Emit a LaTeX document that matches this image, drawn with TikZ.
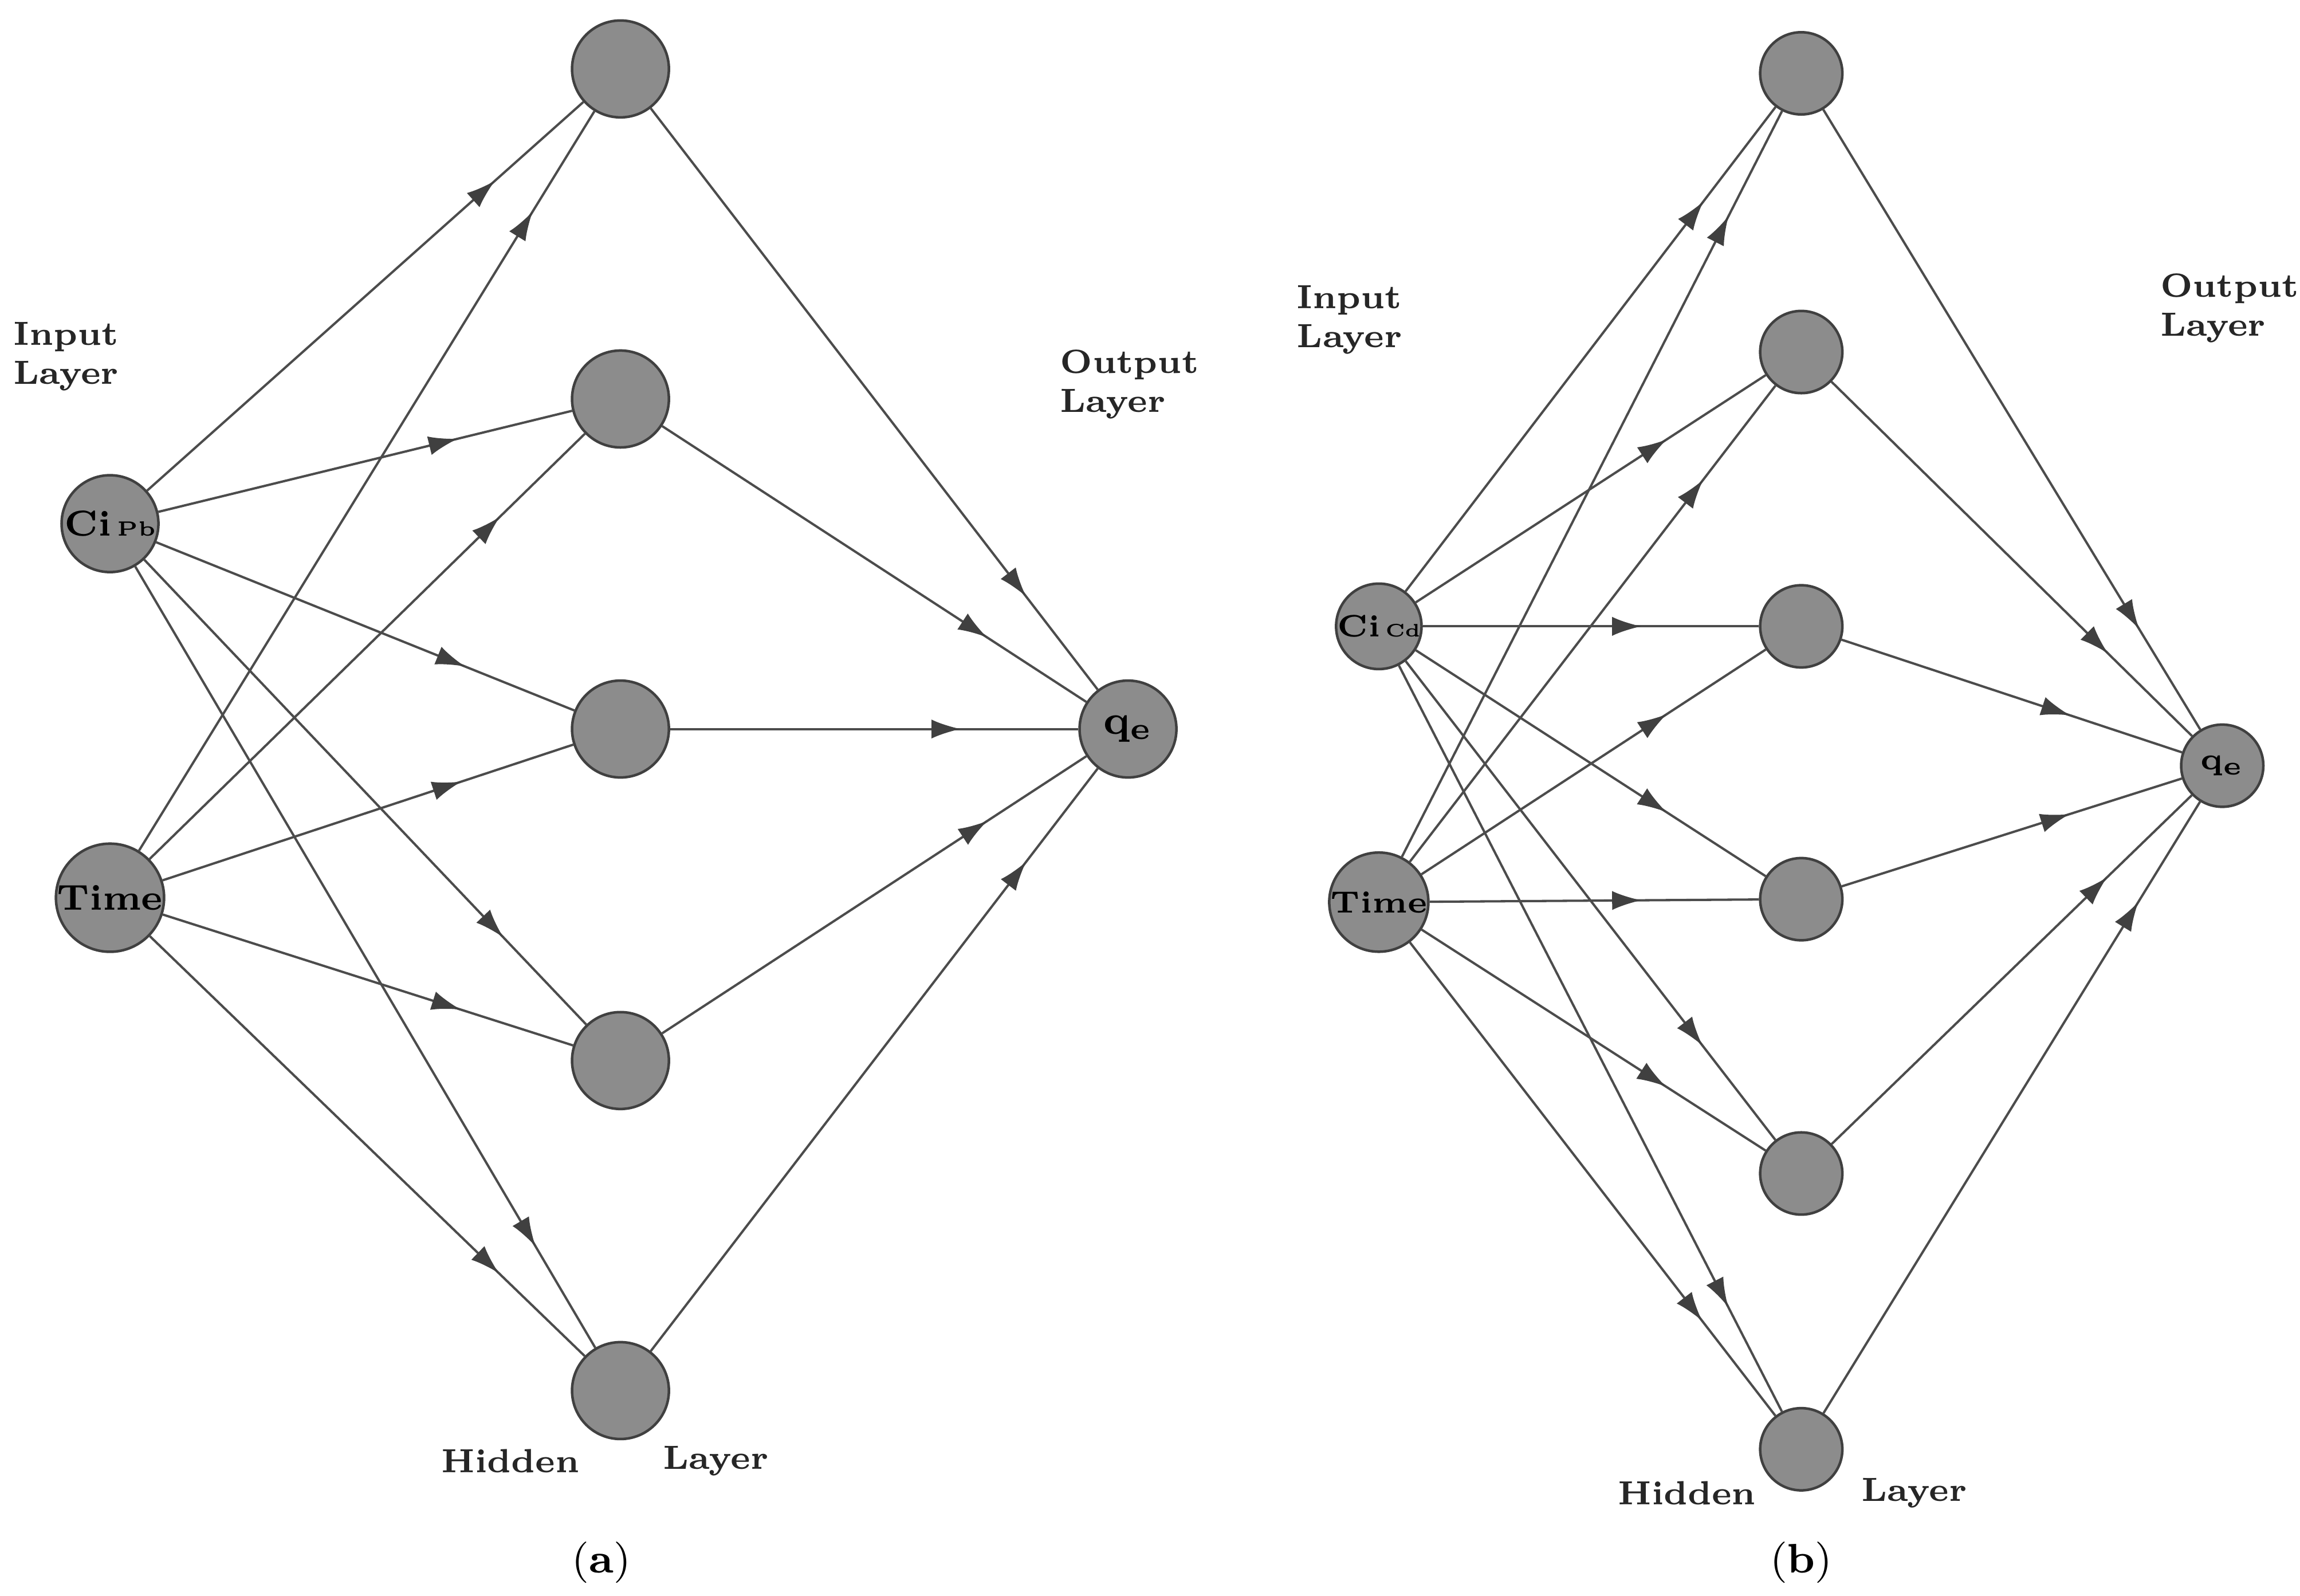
\documentclass[tikz,border=0pt]{standalone}
\usetikzlibrary{decorations.markings,arrows.meta}
\begin{document}
\begin{tikzpicture}[x=0.01cm,y=-0.01cm,
  neuron/.style={circle,draw=black!75,line width=0.5pt,fill=black!45,inner sep=0pt},
  lbl/.style={font=\fontsize{6.5}{7.5}\selectfont\bfseries,align=left,text=black!85},
  edge/.style={draw=black!70,line width=0.45pt,postaction={decorate},
    decoration={markings,mark=at position -0.8cm with {\arrow[black!75]{Latex[length=0.2cm,width=0.13cm]}}}}]
\useasboundingbox (0,0) rectangle (1568,1088);
% panel a
\node[neuron,minimum size=0.66cm] (a1) at (75,357) {\fontsize{7}{8}\selectfont\bfseries Ci\,{\fontsize{4}{4}\selectfont Pb}};
\node[neuron,minimum size=0.66cm] (a2) at (75,612) {\fontsize{7}{8}\selectfont\bfseries Time};
\foreach \i/\y in {1/47,2/272,3/497,4/723,5/948}
  \node[neuron,minimum size=0.66cm] (ah\i) at (423,\y) {};
\node[neuron,minimum size=0.66cm] (ao) at (769,497) {\fontsize{8}{8}\selectfont\bfseries q$_{\mathbf e}$};
\foreach \i in {1,...,5}{
  \draw[edge] (a1) -- (ah\i);
  \draw[edge] (a2) -- (ah\i);
  \draw[edge] (ah\i) -- (ao);}
\node[lbl] (t1) at (45,243) {Input\\Layer};
\node[lbl] (t2) at (770,262) {Output\\Layer};
\node[lbl] (t3) at (348,996) {Hidden};
\node[lbl] (t4) at (488,996) {Layer};
\node[font=\fontsize{8}{9}\selectfont] (ca) at (410,1065) {(\textbf{a})};
% panel b
\node[neuron,minimum size=0.54cm] (b1) at (940,427) {\fontsize{6}{7}\selectfont\bfseries Ci\,{\fontsize{3.5}{4}\selectfont Cd}};
\node[neuron,minimum size=0.54cm] (b2) at (940,615) {\fontsize{6}{7}\selectfont\bfseries Time};
\foreach \i/\y in {1/50,2/240,3/427,4/613,5/800,6/988}
  \node[neuron,minimum size=0.56cm] (bh\i) at (1228,\y) {};
\node[neuron,minimum size=0.56cm] (bo) at (1515,522) {\fontsize{6}{7}\selectfont\bfseries q$_{\mathbf e}$};
\foreach \i in {1,...,6}{
  \draw[edge] (b1) -- (bh\i);
  \draw[edge] (b2) -- (bh\i);
  \draw[edge] (bh\i) -- (bo);}
\node[lbl] (u1) at (920,218) {Input\\Layer};
\node[lbl] (u2) at (1520,210) {Output\\Layer};
\node[lbl] (u3) at (1150,1018) {Hidden};
\node[lbl] (u4) at (1305,1018) {Layer};
\node[font=\fontsize{8}{9}\selectfont] (cb) at (1228,1065) {(\textbf{b})};
\end{tikzpicture}
\end{document}
